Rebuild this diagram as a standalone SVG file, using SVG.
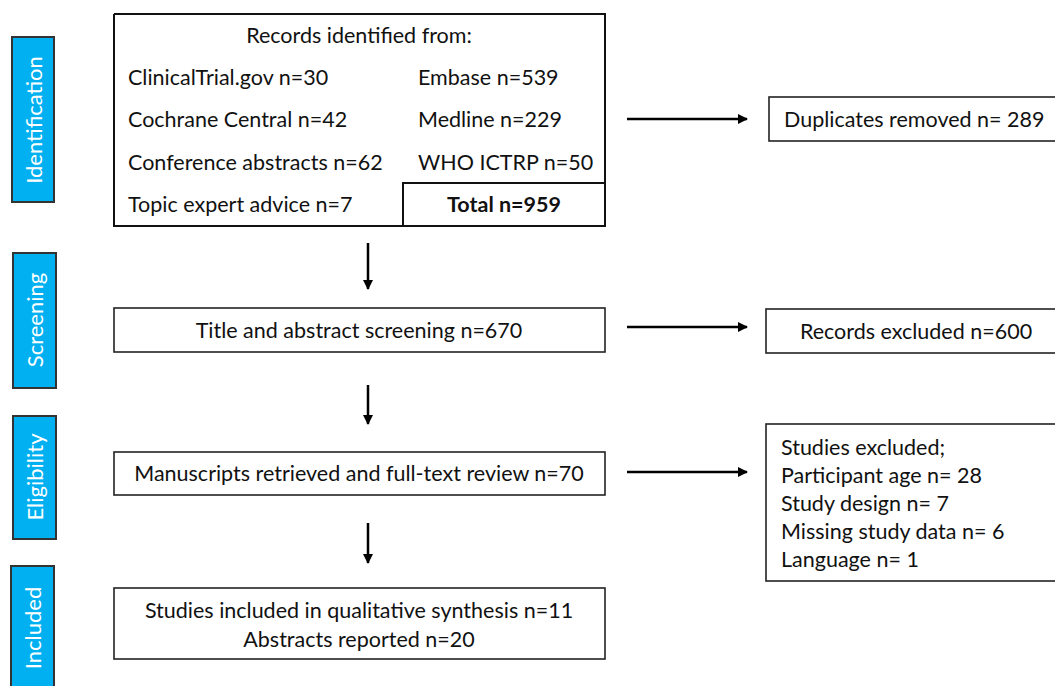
<svg xmlns="http://www.w3.org/2000/svg" width="1055" height="686" viewBox="0 0 1055 686">
<defs>
<marker id="ah" markerWidth="10" markerHeight="10" refX="9" refY="5" orient="auto" markerUnits="userSpaceOnUse">
<path d="M0,0 L10,5 L0,10 z" fill="#000"/>
</marker>
<style>
.t{font-family:Lato,"Liberation Sans",sans-serif;font-size:21.5px;fill:#111}
.b{font-weight:bold}
.box{fill:#fff;stroke:#222;stroke-width:1.6}
.bar{fill:#00B0F0;stroke:#333;stroke-width:2}
.bt{font-family:Lato,"Liberation Sans",sans-serif;font-size:22px;fill:#fff;text-anchor:middle;dominant-baseline:central}
.c{text-anchor:middle}
.ln{stroke:#000;stroke-width:2.5;fill:none}
</style>
</defs>
<rect width="1055" height="686" fill="#fff"/>

<g id="phase-identification"><rect class="bar" x="12" y="37" width="42" height="165"/><text class="bt" transform="translate(33,120) rotate(-90)">Identification</text></g>
<g id="phase-screening"><rect class="bar" x="13" y="253" width="43" height="135"/><text class="bt" transform="translate(34,320) rotate(-90)">Screening</text></g>
<g id="phase-eligibility"><rect class="bar" x="13" y="416" width="43" height="123"/><text class="bt" transform="translate(34,477) rotate(-90)">Eligibility</text></g>
<g id="phase-included"><rect class="bar" x="11" y="566" width="43" height="130"/><text class="bt" transform="translate(32,628) rotate(-90)">Included</text></g>

<g id="records">
<path d="M114,14 H605 V226 M114,14 V226 H605" fill="none" stroke="#111" stroke-width="2"/>
<rect x="403" y="183" width="202" height="43" fill="none" stroke="#111" stroke-width="2"/>
<text class="t c" x="359" y="43">Records identified from:</text>
<text class="t" x="128" y="85">ClinicalTrial.gov n=30</text>
<text class="t" x="418" y="85">Embase n=539</text>
<text class="t" x="128" y="127">Cochrane Central n=42</text>
<text class="t" x="418" y="127">Medline n=229</text>
<text class="t" x="128" y="170">Conference abstracts n=62</text>
<text class="t" x="418" y="170">WHO ICTRP n=50</text>
<text class="t" x="128" y="212">Topic expert advice n=7</text>
<text class="t b c" x="504" y="212">Total n=959</text>
</g>

<g id="screening"><rect class="box" x="114" y="308" width="491" height="44"/><text class="t c" x="359" y="338">Title and abstract screening n=670</text></g>
<g id="fulltext"><rect class="box" x="114" y="452" width="491" height="43"/><text class="t c" x="359" y="481">Manuscripts retrieved and full-text review n=70</text></g>
<g id="included"><rect class="box" x="114" y="588" width="491" height="71"/><text class="t c" x="359" y="618">Studies included in qualitative synthesis n=11</text><text class="t c" x="359" y="647">Abstracts reported n=20</text></g>

<g id="duplicates"><rect class="box" x="769" y="97" width="290" height="44"/><text class="t" x="784" y="127">Duplicates removed n= 289</text></g>
<g id="excluded"><rect class="box" x="766" y="309" width="293" height="44"/><text class="t c" x="916" y="339">Records excluded n=600</text></g>
<g id="studies-excluded"><rect class="box" x="766" y="424" width="293" height="157"/>
<text class="t" x="781" y="455">Studies excluded;</text>
<text class="t" x="781" y="483">Participant age n= 28</text>
<text class="t" x="781" y="511">Study design n= 7</text>
<text class="t" x="781" y="539">Missing study data n= 6</text>
<text class="t" x="781" y="567">Language n= 1</text>
</g>

<g id="connectors">
<line class="ln" x1="368" y1="243" x2="368" y2="289" marker-end="url(#ah)"/>
<line class="ln" x1="368" y1="385" x2="368" y2="424" marker-end="url(#ah)"/>
<line class="ln" x1="368" y1="523" x2="368" y2="563" marker-end="url(#ah)"/>
<line class="ln" x1="627" y1="119" x2="747" y2="119" marker-end="url(#ah)"/>
<line class="ln" x1="627" y1="327" x2="747" y2="327" marker-end="url(#ah)"/>
<line class="ln" x1="627" y1="472" x2="747" y2="472" marker-end="url(#ah)"/>
</g>
</svg>
